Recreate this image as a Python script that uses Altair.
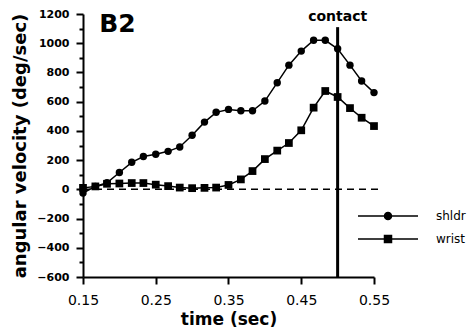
import altair as alt
import pandas as pd

# ---- data ----
times = [0.150, 0.167, 0.183, 0.200, 0.217, 0.233, 0.250, 0.267, 0.283, 0.300,
         0.317, 0.333, 0.350, 0.367, 0.383, 0.400, 0.417, 0.433, 0.450, 0.467,
         0.483, 0.500, 0.517, 0.533, 0.550]
shldr = [-25, 20, 45, 115, 185, 225, 240, 260, 290, 370,
         460, 527, 547, 538, 538, 604, 730, 850, 946, 1020,
         1020, 962, 850, 741, 662]
wrist = [10, 20, 38, 40, 43, 43, 32, 22, 12, 8,
         10, 12, 30, 68, 125, 207, 265, 317, 404, 559,
         673, 632, 556, 490, 433]
series_names = ["shldr", "wrist"]

y_major = [-600, -400, -200, 0, 200, 400, 600, 800, 1000, 1200]
y_minor = [-500, -300, -100, 100, 300, 500, 700, 900, 1100]
x_ticks = [0.15, 0.20, 0.25, 0.30, 0.35, 0.40, 0.45, 0.50, 0.55]

contact_time = 0.5
contact_bottom = -600
contact_top = 1110
zero_x = [0.15, 0.56]
annotations = [
    {"t": 0.5, "v": 1178, "label": "contact", "size": 14},
    {"t": 0.1974, "v": 1132, "label": "B2", "size": 25},
]

FONT = "DejaVu Sans"

rows = []
for name, vals in zip(series_names, [shldr, wrist]):
    for t, v in zip(times, vals):
        rows.append({"time": t, "vel": v, "series": name})
df = pd.DataFrame(rows)

xscale = alt.Scale(domain=[0.15, 0.55], nice=False, zero=False)
yscale = alt.Scale(domain=[-600, 1200], nice=False)

xaxis = alt.Axis(values=x_ticks, labelExpr="round(datum.value*100) % 10 == 5 ? datum.label : ''",
                 title="time (sec)", titleFont=FONT, titleFontSize=17, titleFontWeight="bold",
                 titleBaseline="top", titleY=34,
                 labelFont=FONT, labelFontSize=14, labelFontWeight="normal", labelPadding=9,
                 labelOverlap=False,
                 tickSize=7, tickWidth=2, domainWidth=2, domainColor="black", tickColor="black",
                 labelColor="black", titleColor="black", grid=False, labelFlush=False)
yaxis = alt.Axis(values=y_major, format="d", labelOverlap=False, orient="left",
                 title="angular velocity (deg/sec)", titleFont=FONT, titleFontSize=18,
                 titleFontWeight="bold", titleX=-63, titleBaseline="middle",
                 labelFont=FONT, labelFontSize=11, labelFontWeight="bold", labelPadding=7,
                 tickSize=7, tickWidth=2, domainWidth=2, domainColor="black", tickColor="black",
                 labelColor="black", titleColor="black", grid=False)
yaxis_minor = alt.Axis(values=y_minor, orient="left", labels=False, domain=False, title=None,
                       tickSize=4, tickWidth=2, tickColor="black", grid=False)

base = alt.Chart(df)

lines = base.mark_line(color="black", strokeWidth=1.5).encode(
    x=alt.X("time:Q", scale=xscale, axis=xaxis),
    y=alt.Y("vel:Q", scale=yscale, axis=yaxis),
    detail="series:N",
)

points = base.mark_point(filled=True, color="black", opacity=1).encode(
    x="time:Q",
    y=alt.Y("vel:Q", axis=yaxis_minor),
    shape=alt.Shape("series:N", scale=alt.Scale(domain=series_names, range=["circle", "square"]),
                    legend=None),
    size=alt.Size("series:N", scale=alt.Scale(domain=series_names, range=[55, 60]), legend=None),
)

# legend glyphs: a 60px line with a solid marker built from nested outlines
def ring(r):
    return f"M{-r},0A{r},{r} 0 1,0 {r},0A{r},{r} 0 1,0 {-r},0Z"

def box(h):
    return f"M{-h},{-h}H{h}V{h}H{-h}Z"

radii = [0.017, 0.05, 0.083, 0.117]
circ_path = "M-1,0H1" + "".join(ring(r) for r in radii)
sq_path = "M-1,0H1" + "".join(box(r) for r in radii)

legend_layer = base.mark_point(filled=False, color="black", opacity=0).encode(
    x="time:Q",
    y=alt.Y("vel:Q", axis=None),
    shape=alt.Shape("series:N", scale=alt.Scale(domain=series_names, range=[circ_path, sq_path]),
                    legend=alt.Legend(orient="none", legendX=274, legendY=196, title=None,
                                      symbolSize=3600, symbolStrokeWidth=1.5,
                                      symbolStrokeColor="black",
                                      symbolOpacity=1, labelFont=FONT, labelFontSize=12,
                                      labelColor="black", labelOffset=17, clipHeight=12,
                                      rowPadding=11, padding=0)),
)

zero_df = pd.DataFrame({"t": [zero_x[0]], "t2": [zero_x[1]], "v": [0]})
zero_rule = alt.Chart(zero_df).mark_rule(color="black", strokeWidth=1.5, strokeDash=[7, 5]).encode(
    x="t:Q", x2="t2:Q", y=alt.Y("v:Q", axis=None))

contact_df = pd.DataFrame({"t": [contact_time], "v": [contact_bottom], "v2": [contact_top]})
contact_rule = alt.Chart(contact_df).mark_rule(color="black", strokeWidth=3).encode(
    x="t:Q", y=alt.Y("v:Q", axis=None), y2="v2:Q")

ann_df = pd.DataFrame(annotations)
ann = alt.Chart(ann_df).mark_text(font=FONT, fontWeight="bold", color="black",
                                  baseline="middle", align="center").encode(
    x="t:Q", y=alt.Y("v:Q", axis=None), text="label:N",
    size=alt.Size("size:Q", scale=None, legend=None))

chart = alt.layer(lines, points, zero_rule, legend_layer, contact_rule, ann).resolve_scale(
    shape="independent", size="independent"
).resolve_axis(y="independent").properties(
    width=291, height=263,
    autosize=alt.AutoSizeParams(type="none"),
    padding={"left": 75, "top": 6, "right": 94, "bottom": 52},
    background="white",
).configure_view(stroke=None)

chart.save("out.html", embed_options={"renderer": "svg", "actions": False})
